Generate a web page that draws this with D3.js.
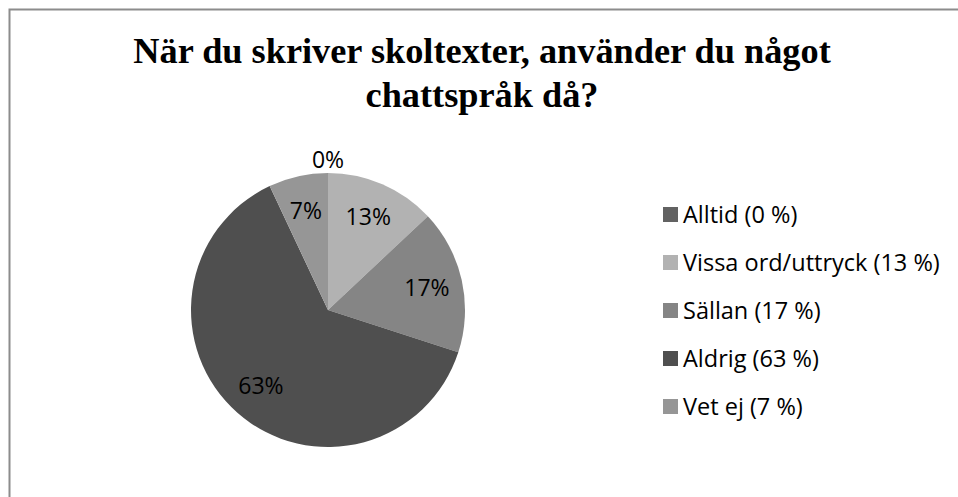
<!DOCTYPE html>
<html>
<head>
<meta charset="utf-8">
<script src="https://cdn.jsdelivr.net/npm/d3@7"></script>
<style>
  body { margin: 0; background: #fff; }
</style>
</head>
<body>
<div id="chart"></div>
<script>
// data
var categories = ["Alltid", "Vissa ord/uttryck", "Sällan", "Aldrig", "Vet ej"]
var percents = [0, 13, 17, 63, 7]
var colors = ["#626262", "#b2b2b2", "#858585", "#4f4f4f", "#969696"]
var titleLines = ["När du skriver skoltexter, använder du något", "chattspråk då?"]

var W = 958, H = 497

var svg = d3.select("#chart").append("svg")
    .attr("width", W)
    .attr("height", H)

svg.append("rect").attr("width", W).attr("height", H).attr("fill", "#fff")

// frame (runs off the right and bottom edge)
svg.append("rect")
    .attr("x", 9.5).attr("y", 9.5)
    .attr("width", W + 20).attr("height", H + 20)
    .attr("fill", "none")
    .attr("stroke", "#8c8c8c")
    .attr("stroke-width", 2)

var title = svg.append("text")
    .attr("text-anchor", "middle")
    .style("font-family", "'Liberation Serif', 'Times New Roman', serif")
    .style("font-weight", "bold")
    .style("font-size", "36.3px")
    .attr("fill", "#000")

title.selectAll("tspan")
    .data(titleLines)
    .enter().append("tspan")
    .attr("x", 482)
    .attr("y", function(d, i) { return 63 + i * 43.5 })
    .text(function(d) { return d })

// pie
var cx = 328, cy = 310, r = 137
var data = categories.map(function(c, i) { return { name: c, value: percents[i], color: colors[i] } })

var pie = d3.pie().sort(null).value(function(d) { return d.value })
var arc = d3.arc().innerRadius(0).outerRadius(r)
var labelArc = d3.arc().innerRadius(r * 0.74).outerRadius(r * 0.74)

var g = svg.append("g").attr("transform", "translate(" + cx + "," + cy + ")")
var arcs = pie(data)

g.selectAll("path")
    .data(arcs)
    .enter().append("path")
    .attr("d", arc)
    .attr("fill", function(d) { return d.data.color })

g.selectAll("text")
    .data(arcs)
    .enter().append("text")
    .attr("transform", function(d) {
      // zero slice: label sits just outside the pie top
      if (d.data.value === 0) return "translate(0," + (-r - 13) + ")"
      return "translate(" + labelArc.centroid(d) + ")"
    })
    .attr("text-anchor", "middle")
    .attr("dy", "0.36em")
    .style("font-family", "'Open Sans', Lato, sans-serif")
    .style("font-size", "23px")
    .attr("fill", "#000")
    .text(function(d) { return d.data.value + "%" })

// legend
var legend = svg.append("g").attr("class", "legend")
var rowY = d3.scalePoint().domain(categories).range([214.5, 406.5])

var rows = legend.selectAll("g")
    .data(data)
    .enter().append("g")
    .attr("transform", function(d) { return "translate(663," + rowY(d.name) + ")" })

rows.append("rect")
    .attr("x", 0).attr("y", -7.5)
    .attr("width", 15).attr("height", 15)
    .attr("fill", function(d) { return d.color })

rows.append("text")
    .attr("x", 20)
    .attr("y", 8.4)
    .style("font-family", "'Open Sans', Lato, sans-serif")
    .style("font-size", "23.5px")
    .attr("fill", "#000")
    .text(function(d) { return d.name + " (" + d.value + " %)" })
</script>
</body>
</html>
